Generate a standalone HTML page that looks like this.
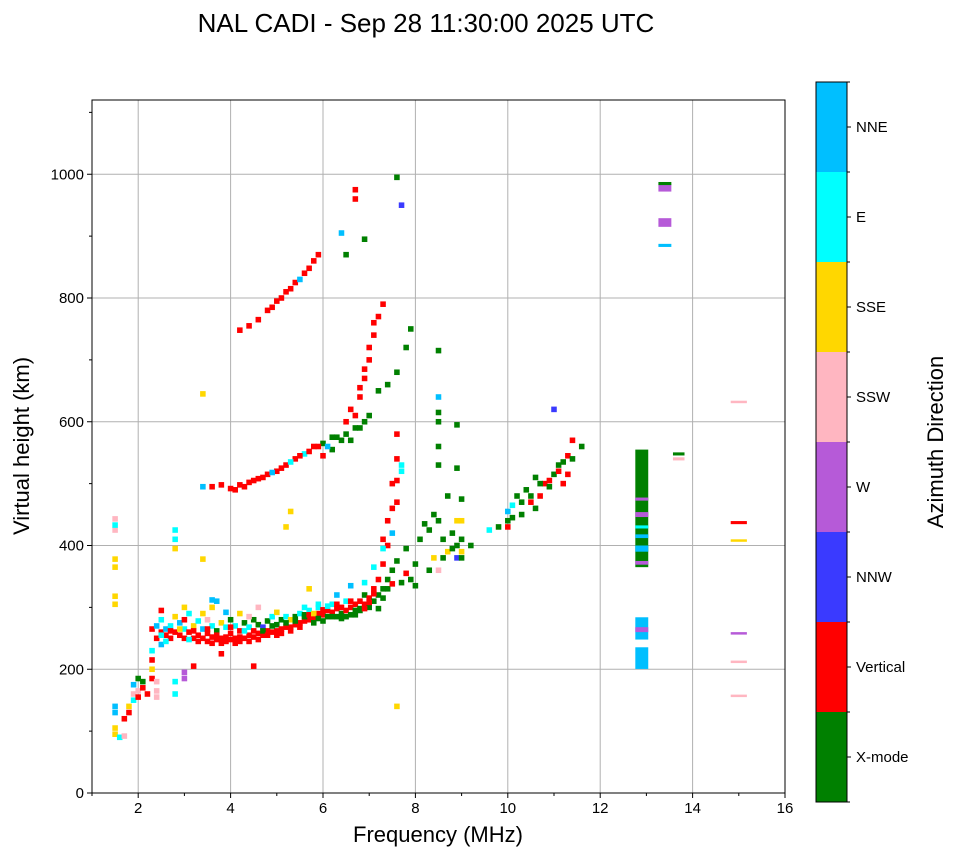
<!DOCTYPE html>
<html><head><meta charset="utf-8"><style>
body{margin:0;background:#fff;font-family:"Liberation Sans",sans-serif;}
svg text{font-family:"Liberation Sans",sans-serif;}
</style></head><body>
<svg id="chart" width="958" height="857" xmlns="http://www.w3.org/2000/svg">
<text x="426" y="32" font-size="26" text-anchor="middle">NAL CADI - Sep 28 11:30:00 2025 UTC</text>
<g id="grid"></g>
<g id="marks"></g>
<rect x="92" y="100" width="693" height="693" fill="none" stroke="#000" stroke-width="1"/>
<g id="axes"></g>
<text x="438" y="842" font-size="22" text-anchor="middle">Frequency (MHz)</text>
<text transform="translate(29,446) rotate(-90)" font-size="22" text-anchor="middle">Virtual height (km)</text>
<g id="cbar"></g>
<text transform="translate(943,442) rotate(-90)" font-size="22" text-anchor="middle">Azimuth Direction</text>
</svg>
<script>
const dirLabels=["X-mode","Vertical","NNW","W","SSW","SSE","E","NNE"];
const dirColors=["#008000","#ff0000","#3a3aff","#b65ad8","#ffb6c1","#ffd700","#00ffff","#00bfff"];
const xTicks=[0,2,4,6,8,10,12,14,16];
const yTicks=[0,200,400,600,800,1000];
// echoes: [frequency MHz, virtual height km, direction index, optional extent km, optional width MHz]
const echoes=[
[1.5,95,5],[1.5,105,5],[1.5,130,7],[1.5,140,7],[1.6,90,6],[1.5,305,5],[1.5,318,5],[1.5,365,5],[1.5,378,5],[1.5,425,4],[1.5,433,6],[1.5,443,4],[1.7,92,4],
[1.7,120,1],[1.8,130,1],[1.8,140,5],[1.9,150,6],[1.9,160,4],[1.9,175,7],[2.0,155,1],[2.0,165,4],[2.0,185,0],[2.1,170,1],[2.1,180,0],[2.2,160,1],[2.3,185,1],[2.3,200,5],[2.3,215,1],[2.3,230,6],[2.3,265,1],
[2.4,165,4],[2.4,180,4],[2.4,155,4],[2.4,250,1],[2.4,270,7],[2.5,260,1],[2.5,280,6],[2.5,295,1],[2.5,240,7],[2.6,255,1],[2.6,265,7],[2.7,250,1],[2.7,270,6],[2.8,260,1],[2.8,285,5],[2.8,160,6],[2.8,180,6],[2.8,395,5],[2.8,410,6],[2.8,425,6],
[2.9,255,1],[2.9,275,7],[3.0,250,1],[3.0,265,6],[3.0,280,1],[3.0,300,5],[3.0,195,3],[3.0,185,3],[3.1,260,1],[3.1,290,6],[3.2,250,1],[3.2,270,5],[3.2,205,1],
[3.3,255,1],[3.3,278,6],[3.4,250,1],[3.4,265,7],[3.4,290,5],[3.5,245,1],[3.5,258,1],[3.5,280,4],[3.6,252,1],[3.6,270,6],[3.6,300,5],[3.7,248,1],[3.7,262,0],[3.7,310,7],[3.8,250,1],[3.8,275,5],[3.8,225,1],
[3.9,252,1],[3.9,268,6],[4.0,248,1],[4.0,258,1],[4.0,280,0],[4.1,250,1],[4.1,270,6],[4.2,252,1],[4.2,262,1],[4.2,290,5],[4.3,250,1],[4.3,275,0],[4.4,255,1],[4.4,268,6],[4.5,252,1],[4.5,280,0],
[4.6,258,1],[4.6,272,0],[4.6,300,4],[4.7,255,1],[4.7,268,2],[4.8,262,1],[4.8,278,0],[4.9,260,1],[4.9,285,6],[5.0,262,1],[5.0,272,0],[5.0,292,5],[5.1,265,1],[5.1,280,0],[5.2,268,1],[5.2,285,6],
[5.3,268,1],[5.3,280,5],[5.4,272,1],[5.4,285,0],[5.5,275,1],[5.5,290,6],[5.6,278,1],[5.6,288,0],[5.7,280,1],[5.7,295,6],[5.8,282,1],[5.8,275,0],[5.9,290,1],[5.9,300,6],[6.0,288,1],[6.0,278,0],
[6.1,295,1],[6.1,285,0],[6.2,292,1],[6.2,305,6],[6.3,298,1],[6.3,285,0],[6.4,300,1],[6.4,290,0],[6.5,295,1],[6.5,310,6],[6.6,300,1],[6.6,288,0],[6.7,305,1],[6.7,295,0],[6.8,310,1],[6.8,298,0],
[6.9,305,1],[6.9,320,0],[7.0,315,1],[7.0,300,0],[7.1,330,1],[7.1,310,0],[7.2,345,1],[7.2,320,0],[7.3,370,1],[7.3,330,0],[7.3,410,1],[7.4,400,1],[7.4,345,0],[7.4,440,1],[7.5,460,1],[7.5,360,0],
[7.5,500,1],[7.6,540,1],[7.6,580,1],[7.6,375,0],[7.7,340,0],[7.7,520,6],[7.8,395,0],[7.8,355,1],[7.9,345,0],[8.0,335,0],[8.0,370,0],[8.1,410,0],[8.2,435,0],[8.3,360,0],[8.4,450,0],[8.4,380,5],
[8.5,360,4],[8.5,440,0],[8.5,530,0],[8.5,560,0],[8.5,600,0],[8.5,615,0],[8.5,640,7],[8.5,715,0],[8.6,380,0],[8.7,390,5],[8.7,480,0],[8.8,420,0],[8.9,380,2],[8.9,400,0],[8.9,440,5],[8.9,525,0],[8.9,595,0],
[9.0,390,5],[9.0,410,0],[9.0,440,5],[9.0,475,0],[9.2,400,0],[9.6,425,6],[9.8,430,0],[10.0,440,0],[10.0,455,7],[10.0,430,1],[10.1,465,6],[10.2,480,0],[10.3,450,0],[10.4,490,0],[10.5,470,1],
[10.6,460,0],[10.6,510,0],[10.7,480,1],[10.8,500,1],[10.9,495,0],[11.0,515,0],[11.0,620,2],[11.1,520,1],[11.2,535,0],[11.2,500,1],[11.3,545,1],[11.4,570,1],[11.6,560,0],
[3.4,495,7],[3.6,495,1],[3.8,498,1],[4.0,492,1],[4.2,498,1],[4.4,502,1],[4.6,508,1],[4.8,515,1],[5.0,520,1],[5.2,530,1],[5.4,540,1],[5.6,548,6],[5.8,560,1],[6.0,565,0],[6.2,575,0],[6.4,570,0],
[6.5,600,1],[6.6,620,1],[6.7,590,0],[6.8,640,1],[6.9,670,1],[7.0,700,1],[7.1,740,1],[7.2,770,1],[7.3,790,1],[7.0,610,0],[7.2,650,0],[7.4,660,0],[7.6,680,0],[7.8,720,0],[7.9,750,0],
[4.2,748,1],[4.4,755,1],[4.6,765,1],[4.8,780,1],[5.0,795,1],[5.2,810,1],[5.4,825,1],[5.6,840,1],[5.8,860,1],[6.4,905,7],[6.5,870,0],[6.7,975,1],[6.7,960,1],[6.9,895,0],[7.6,995,0],[7.7,950,2],
[6.0,545,1],[6.2,555,0],[5.2,430,5],[5.3,455,5],[5.7,330,5],[3.4,378,5],[3.4,645,5],[7.6,140,5],[4.5,205,1],
[2.5,255,6],[2.6,245,6],[2.7,262,1],[2.9,265,5],[3.1,248,6],[3.2,262,1],[3.3,245,1],[3.5,265,1],[3.6,242,1],[3.7,255,1],[3.8,242,1],[3.9,245,1],[4.0,268,1],[4.1,242,1],[4.2,245,1],[4.3,262,6],
[4.4,245,1],[4.5,262,1],[4.6,248,1],[4.7,262,0],[4.8,255,1],[4.9,270,0],[5.0,255,1],[5.1,258,1],[5.2,275,0],[5.3,262,1],[5.4,278,0],[5.5,268,1],[5.6,285,0],[5.7,288,1],[5.8,290,5],[5.9,282,0],
[6.0,296,1],[6.1,302,6],[6.2,285,0],[6.3,305,1],[6.4,282,0],[6.5,285,0],[6.6,310,1],[6.7,288,0],[6.8,295,0],[6.9,298,1],[7.0,308,1],[7.1,322,1],[7.2,298,0],[7.3,315,0],[7.4,330,0],[7.5,338,1],
[3.9,292,7],[3.6,312,7],[4.4,285,4],[5.6,300,6],[5.9,305,6],[6.3,320,7],[6.6,335,7],[6.9,340,6],[7.1,365,6],[7.3,395,6],[7.5,420,7],[7.6,470,1],[7.6,505,1],[7.7,530,6],
[4.1,490,1],[4.3,495,1],[4.5,505,1],[4.7,510,1],[4.9,518,7],[5.1,525,1],[5.3,535,6],[5.5,545,1],[5.7,552,1],[5.9,560,1],[6.1,560,7],[6.3,575,0],[6.5,580,0],[6.6,570,0],[6.8,590,0],[6.9,600,0],
[6.7,610,1],[6.8,655,1],[6.9,685,1],[7.0,720,1],[7.1,760,1],[4.9,785,1],[5.1,800,1],[5.3,815,1],[5.5,830,7],[5.7,848,1],[5.9,870,1],
[8.3,425,0],[8.6,410,0],[8.8,395,0],[9.0,380,0],[10.1,445,0],[10.3,470,0],[10.5,480,0],[10.7,500,0],[10.9,505,1],[11.1,530,0],[11.3,515,1],[11.4,540,0],
[12.9,218,7,35,0.28],[12.9,266,7,36,0.28],[12.9,264,3,8,0.28],[12.9,460,0,190,0.28],[12.9,372,3,6,0.28],[12.9,395,7,10,0.28],[12.9,450,3,8,0.28],[12.9,415,7,6,0.28],[12.9,475,3,5,0.28],[12.9,430,6,5,0.28],
[13.4,978,3,12,0.28],[13.4,985,0,5,0.28],[13.4,922,3,14,0.28],[13.4,885,7,5,0.28],[13.7,548,0,5,0.25],[13.7,540,4,5,0.25],[15.0,632,4,4,0.35],[15.0,437,1,5,0.35],[15.0,408,5,4,0.35],[15.0,258,3,4,0.35],[15.0,212,4,4,0.35],[15.0,157,4,4,0.35]
];
const X0=92,X1=785,Y0=793,Y1=100,FMIN=1,FMAX=16,HMIN=0,HMAX=1120;
const xs=f=>X0+(f-FMIN)/(FMAX-FMIN)*(X1-X0);
const ys=h=>Y0-(h-HMIN)/(HMAX-HMIN)*(Y0-Y1);
const NS="http://www.w3.org/2000/svg";
function mk(tag,attrs,parent){const e=document.createElementNS(NS,tag);for(const k in attrs)e.setAttribute(k,attrs[k]);parent.appendChild(e);return e;}
const grid=document.getElementById('grid'),axes=document.getElementById('axes'),marks=document.getElementById('marks'),cbar=document.getElementById('cbar');
xTicks.forEach(t=>{if(t<FMIN)return;const x=xs(t);
 if(t>FMIN&&t<FMAX){const g=mk('line',{x1:x,x2:x,y1:Y1,y2:Y0,stroke:'#b0b0b0','stroke-width':1},grid);}
 mk('line',{x1:x,x2:x,y1:Y0,y2:Y0+5,stroke:'#000'},axes);
 const l=mk('text',{x:x,y:Y0+20,'font-size':15,'text-anchor':'middle'},axes);l.textContent=t;
 
 });
yTicks.forEach(t=>{const y=ys(t);
 if(t>HMIN){const g=mk('line',{x1:X0,x2:X1,y1:y,y2:y,stroke:'#b0b0b0','stroke-width':1},grid);}
 mk('line',{x1:X0-5,x2:X0,y1:y,y2:y,stroke:'#000'},axes);
 const l=mk('text',{x:X0-8,y:y+5,'font-size':15,'text-anchor':'end'},axes);l.textContent=t;
 
 });
for(let h=100;h<HMAX;h+=100){if(h%200)mk('line',{x1:X0-3,x2:X0,y1:ys(h),y2:ys(h),stroke:'#000'},axes);}
for(let f=1;f<=16;f++){if(f%2)mk('line',{x1:xs(f),x2:xs(f),y1:Y0,y2:Y0+3,stroke:'#000'},axes);}
echoes.forEach(p=>{const ext=p[3]||9;const wid=p[4]||0.12;const dh=ys(0)-ys(ext);const dw=xs(wid)-xs(0);
 const r=mk('rect',{x:xs(p[0])-dw/2,y:ys(p[1])-dh/2,width:dw,height:dh,fill:dirColors[p[2]]},marks);
 
 });
const CX=816,CW=31,CT=82,CB=802,bh=(CB-CT)/dirLabels.length;
dirLabels.forEach((d,i)=>{const y=CB-(i+1)*bh;
 const r=mk('rect',{x:CX,y:y,width:CW,height:bh,fill:dirColors[i]},cbar);
 
 
 mk('line',{x1:CX+CW,x2:CX+CW+4,y1:y+bh/2,y2:y+bh/2,stroke:'#000'},cbar);
 const l=mk('text',{x:CX+CW+9,y:y+bh/2+5,'font-size':15},cbar);l.textContent=d;
 
 });
for(let i=0;i<=dirLabels.length;i++){mk('line',{x1:CX+CW,x2:CX+CW+3,y1:CT+i*bh,y2:CT+i*bh,stroke:'#000'},cbar);}
mk('rect',{x:CX,y:CT,width:CW,height:CB-CT,fill:'none',stroke:'#000'},cbar);
</script>
</body></html>
